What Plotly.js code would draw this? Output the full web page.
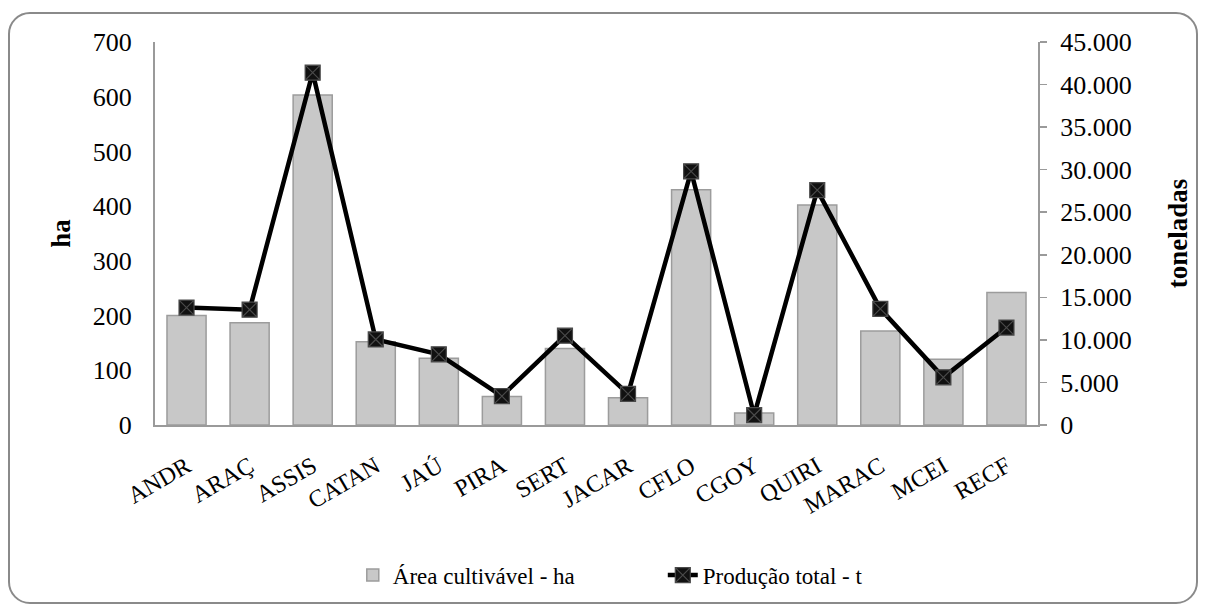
<!DOCTYPE html>
<html>
<head>
<meta charset="utf-8">
<script src="https://cdn.plot.ly/plotly-3.0.1.min.js"></script>
<style>
  html, body { margin: 0; padding: 0; background: #ffffff; }
  #frame { position: absolute; left: 8px; top: 12px; width: 1186px; height: 588px;
           border: 2px solid #8a8a8a; border-radius: 22px; background: #fff; }
  #chart { position: absolute; left: 0; top: 0; width: 1206px; height: 609px; }
</style>
</head>
<body>
<div id="frame"></div>
<div id="chart"></div>
<script>
const categories = ["ANDR", "ARAÇ", "ASSIS", "CATAN", "JAÚ", "PIRA", "SERT", "JACAR", "CFLO", "CGOY", "QUIRI", "MARAC", "MCEI", "RECF"];
const areaHa = [200, 187, 603, 152, 122, 52, 140, 50, 430, 22, 402, 172, 120, 242];
const producaoT = [13800, 13550, 41400, 10050, 8300, 3400, 10500, 3650, 29800, 1150, 27600, 13650, 5600, 11450];
const seriesNames = ["Área cultivável - ha", "Produção total - t"];
const axisTitles = { left: "ha", right: "toneladas" };

const serif = "'Liberation Serif', 'Times New Roman', serif";

const traces = [
  {
    type: "bar",
    name: seriesNames[0],
    x: categories,
    y: areaHa,
    width: 0.62,
    marker: { color: "#c8c8c8", line: { color: "#9c9c9c", width: 1.5 } },
    yaxis: "y"
  },
  {
    type: "scatter",
    mode: "lines+markers",
    name: seriesNames[1],
    x: categories,
    y: producaoT,
    yaxis: "y2",
    line: { color: "#000000", width: 4.5 },
    marker: { symbol: "square-x", size: 15, color: "#111111", line: { color: "#4a4a4a", width: 1.2 } }
  }
];

const layout = {
  width: 1206,
  height: 609,
  paper_bgcolor: "rgba(0,0,0,0)",
  plot_bgcolor: "rgba(0,0,0,0)",
  separators: ",.",
  margin: { l: 155, r: 168, t: 42, b: 182 },
  font: { family: serif, size: 24, color: "#000" },
  showlegend: true,
  legend: {
    orientation: "h",
    x: 0.224, xanchor: "left",
    y: -0.392, yanchor: "middle",
    font: { family: serif, size: 23, color: "#000" },
    entrywidth: 265,
    traceorder: "normal"
  },
  xaxis: {
    type: "category",
    range: [-0.5, 13.5],
    tickangle: -30,
    tickfont: { family: serif, size: 24 },
    ticklabelstandoff: 16,
    showline: true, linecolor: "#9a9a9a", linewidth: 2,
    ticks: "", showgrid: false, zeroline: false
  },
  yaxis: {
    range: [0, 700], dtick: 100,
    showline: true, linecolor: "#9a9a9a", linewidth: 2,
    ticks: "", showgrid: false, zeroline: false,
    ticklabelstandoff: 16,
    tickfont: { family: serif, size: 26 },
    title: { text: "<b>" + axisTitles.left + "</b>", font: { family: serif, size: 27 }, standoff: 14 }
  },
  yaxis2: {
    overlaying: "y", side: "right",
    range: [0, 45000], dtick: 5000, tickformat: ",d",
    showline: true, linecolor: "#9a9a9a", linewidth: 2,
    ticks: "outside", ticklen: 7, tickcolor: "#9a9a9a", tickwidth: 1.5,
    showgrid: false, zeroline: false,
    ticklabelstandoff: 8,
    tickfont: { family: serif, size: 26 },
    title: { text: "<b>" + axisTitles.right + "</b>", font: { family: serif, size: 27 }, standoff: 37 }
  },
  bargap: 0.38
};

Plotly.newPlot("chart", traces, layout, { displayModeBar: false, staticPlot: true });
</script>
</body>
</html>
